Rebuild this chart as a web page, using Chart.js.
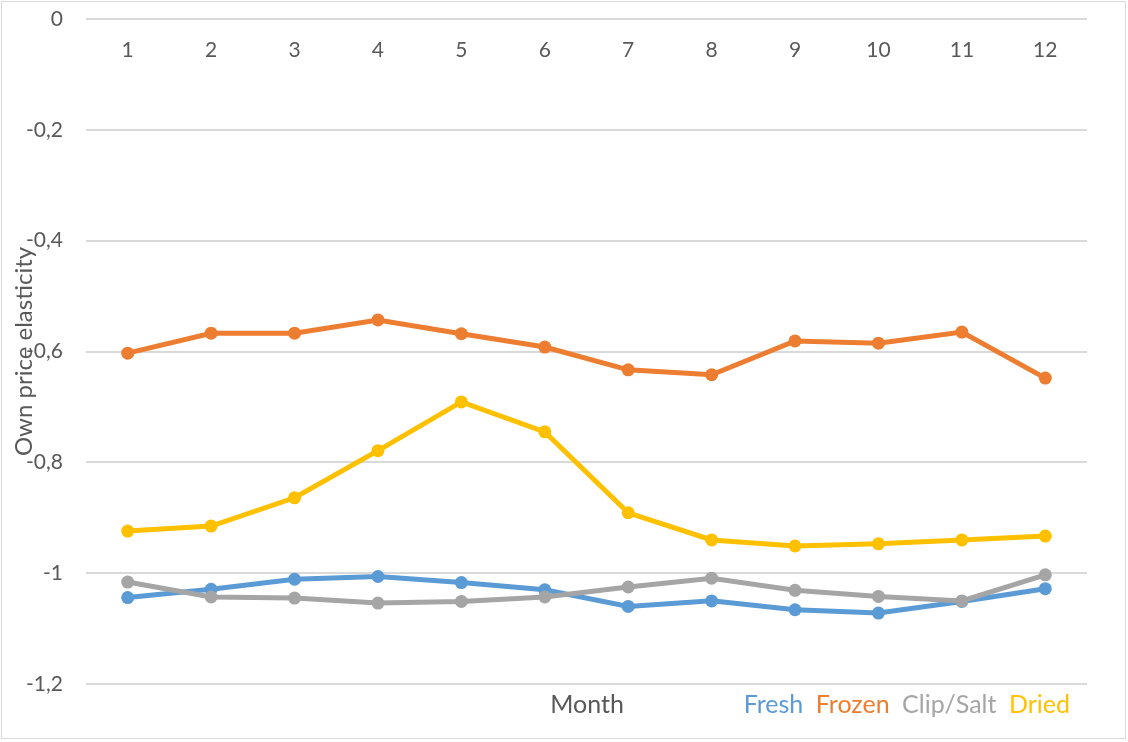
<!DOCTYPE html>
<html>
<head>
<meta charset="utf-8">
<title>Own price elasticity by month</title>
<script src="https://cdn.jsdelivr.net/npm/chart.js@4/dist/chart.umd.min.js"></script>
<style>
  html, body { margin: 0; padding: 0; background: #fff; }
  #wrap { width: 1128px; height: 742px; }
</style>
</head>
<body>
<div id="wrap"><canvas id="chart" width="1128" height="742"></canvas></div>
<script>
// ----- data -----
const months = ['1', '2', '3', '4', '5', '6', '7', '8', '9', '10', '11', '12'];
const fresh = [-1.044, -1.029, -1.011, -1.006, -1.017, -1.030, -1.060, -1.050, -1.066, -1.072, -1.051, -1.028];
const frozen = [-0.603, -0.567, -0.567, -0.543, -0.568, -0.592, -0.633, -0.642, -0.581, -0.585, -0.565, -0.648];
const clipSalt = [-1.016, -1.043, -1.045, -1.054, -1.051, -1.043, -1.025, -1.009, -1.031, -1.042, -1.050, -1.003];
const dried = [-0.924, -0.915, -0.864, -0.779, -0.691, -0.745, -0.891, -0.940, -0.951, -0.947, -0.940, -0.933];
const yTicks = [0, -0.2, -0.4, -0.6, -0.8, -1, -1.2];

const FONT = 'Lato, "Noto Sans", sans-serif';
const TEXT = '#595959';

// cores estilo Excel
const series = [
  { label: 'Fresh', data: fresh, color: '#5B9BD5', order: 4 },
  { label: 'Frozen', data: frozen, color: '#ED7D31', order: 3 },
  { label: 'Clip/Salt', data: clipSalt, color: '#A5A5A5', order: 2 },
  { label: 'Dried', data: dried, color: '#FFC000', order: 1 },
];

// moldura cinza + texto "Month" + ajuste da legenda
const extras = {
  id: 'extras',
  afterLayout(chart) {
    const lg = chart.legend;
    lg.top += 8; lg.bottom += 8;
    lg.left -= 17; lg.right -= 17;
  },
  beforeDraw(chart) {
    const ctx = chart.ctx;
    ctx.save();
    ctx.fillStyle = '#fff';
    ctx.fillRect(0, 0, chart.width, chart.height);
    ctx.strokeStyle = '#D9D9D9';
    ctx.lineWidth = 1;
    ctx.strokeRect(1.5, 1.5, 1124, 737);
    ctx.restore();
  },
  afterDraw(chart) {
    const ctx = chart.ctx;
    ctx.save();
    ctx.font = '25px ' + FONT;
    ctx.fillStyle = TEXT;
    ctx.textAlign = 'center';
    ctx.textBaseline = 'middle';
    ctx.fillText('Month', 587, 705);
    ctx.restore();
  }
};

const fmt = v => String(Number(v.toFixed(1))).replace('.', ',');

new Chart(document.getElementById('chart'), {
  type: 'line',
  data: {
    labels: months,
    datasets: series.map(s => ({
      label: s.label,
      data: s.data,
      order: s.order,
      borderColor: s.color,
      backgroundColor: s.color,
      pointBackgroundColor: s.color,
      pointBorderColor: s.color,
      borderWidth: 5,
      pointRadius: 6.5,
      pointBorderWidth: 0,
      tension: 0,
    })),
  },
  options: {
    responsive: false,
    animation: false,
    layout: { padding: { left: 3, right: 41, top: 19, bottom: 23 } },
    scales: {
      y: {
        min: -1.2,
        max: 0,
        afterBuildTicks: s => { s.ticks = yTicks.map(v => ({ value: v })); },
        afterFit: s => {
          s.width = 83;
          // o padding dos ticks não deve empurrar a área do gráfico
          s.paddingTop = 12;
          s.paddingBottom = 12;
        },
        ticks: {
          padding: 23,
          color: TEXT,
          font: { family: FONT, size: 21 },
          callback: v => fmt(v),
        },
        grid: { color: '#D9D9D9', lineWidth: 2, drawTicks: false },
        border: { display: false },
        title: {
          display: true,
          text: 'Own price elasticity',
          color: TEXT,
          font: { family: FONT, size: 24 },
          padding: { top: 7, bottom: 0 },
        },
      },
      x: {
        position: { y: 0 },
        offset: true,
        ticks: {
          padding: 19,
          color: TEXT,
          font: { family: FONT, size: 21 },
          maxRotation: 0,
        },
        grid: { display: false, drawTicks: false },
        border: { display: false },
      },
    },
    plugins: {
      tooltip: { enabled: false },
      legend: {
        position: 'bottom',
        align: 'end',
        labels: {
          padding: 0,
          boxWidth: 0,
          font: { family: FONT, size: 25 },
          generateLabels: chart => chart.data.datasets.map((ds, i) => ({
            text: ds.label,
            fontColor: ds.borderColor,
            fillStyle: 'rgba(0,0,0,0)',
            strokeStyle: 'rgba(0,0,0,0)',
            lineWidth: 0,
            hidden: false,
            datasetIndex: i,
          })),
        },
      },
    },
  },
  plugins: [extras],
});
</script>
</body>
</html>
